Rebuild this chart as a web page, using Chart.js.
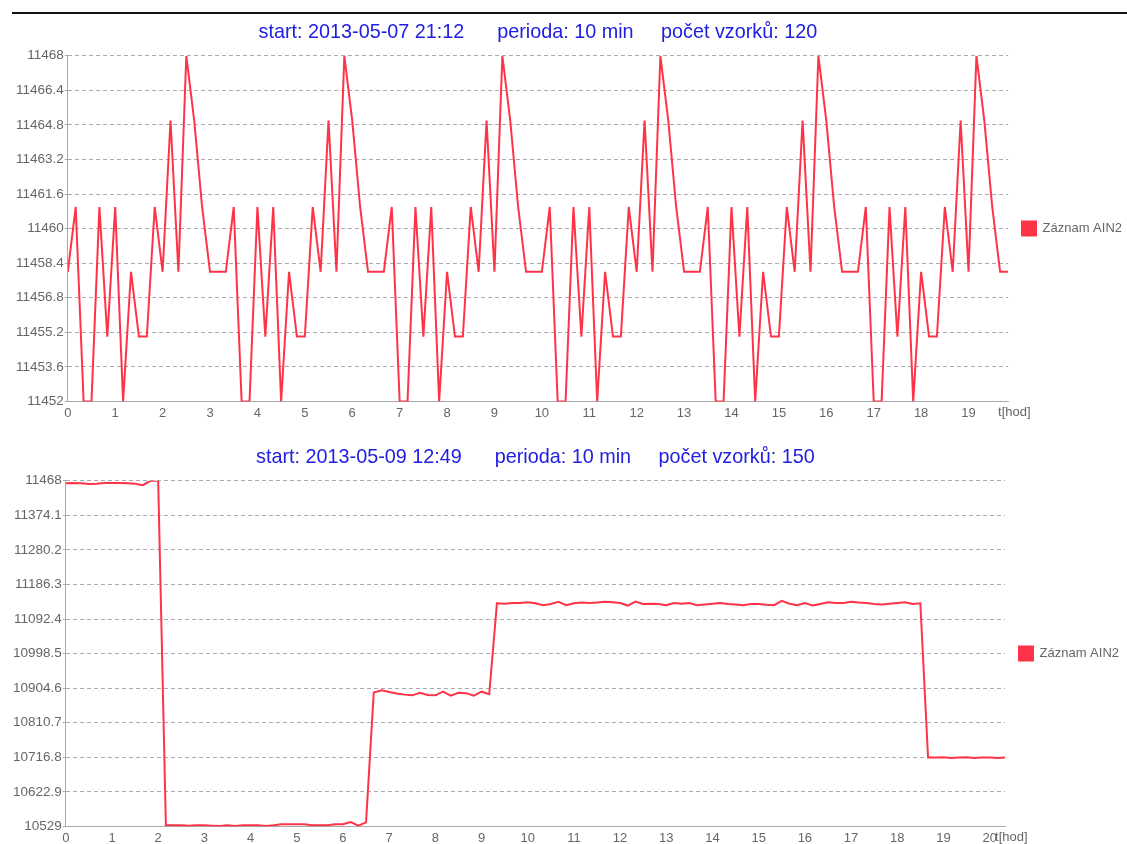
<!DOCTYPE html>
<html>
<head>
<meta charset="utf-8">
<title>Záznam AIN2</title>
<script src="https://cdn.jsdelivr.net/npm/chart.js@4.4.0/dist/chart.umd.min.js"></script>
<style>
  html, body { margin: 0; padding: 0; background: #fff; overflow: hidden; }
  body { width: 1127px; height: 844px; position: relative; }
  .rule { position: absolute; left: 12px; top: 12px; width: 1115px; height: 2px; background: #111; }
  .box { position: absolute; width: 1132px; height: 425px; }
  #box1 { left: 0; top: 0; }
  #box2 { left: -3px; top: 425px; }
</style>
</head>
<body>
<div class="rule"></div>
<div class="box" id="box1"><canvas id="chart1"></canvas></div>
<div class="box" id="box2"><canvas id="chart2"></canvas></div>
<script>
// data
const seriesName = 'Záznam AIN2';
const xUnit = 't[hod]';
const periodHours = 10 / 60;

const title1 = 'start: 2013-05-07 21:12      perioda: 10 min     počet vzorků: 120';
const title2 = 'start: 2013-05-09 12:49      perioda: 10 min     počet vzorků: 150';

const xTicks1 = [0, 1, 2, 3, 4, 5, 6, 7, 8, 9, 10, 11, 12, 13, 14, 15, 16, 17, 18, 19];
const xTicks2 = [0, 1, 2, 3, 4, 5, 6, 7, 8, 9, 10, 11, 12, 13, 14, 15, 16, 17, 18, 19, 20];

const yTicks1 = [11452, 11453.6, 11455.2, 11456.8, 11458.4, 11460, 11461.6, 11463.2, 11464.8, 11466.4, 11468];
const yTicks2 = [10529, 10622.9, 10716.8, 10810.7, 10904.6, 10998.5, 11092.4, 11186.3, 11280.2, 11374.1, 11468];

const values1 = [
    11458, 11461, 11452, 11452, 11461, 11455, 11461, 11452, 11458, 11455,
    11455, 11461, 11458, 11465, 11458, 11468, 11465, 11461, 11458, 11458,
    11458, 11461, 11452, 11452, 11461, 11455, 11461, 11452, 11458, 11455,
    11455, 11461, 11458, 11465, 11458, 11468, 11465, 11461, 11458, 11458,
    11458, 11461, 11452, 11452, 11461, 11455, 11461, 11452, 11458, 11455,
    11455, 11461, 11458, 11465, 11458, 11468, 11465, 11461, 11458, 11458,
    11458, 11461, 11452, 11452, 11461, 11455, 11461, 11452, 11458, 11455,
    11455, 11461, 11458, 11465, 11458, 11468, 11465, 11461, 11458, 11458,
    11458, 11461, 11452, 11452, 11461, 11455, 11461, 11452, 11458, 11455,
    11455, 11461, 11458, 11465, 11458, 11468, 11465, 11461, 11458, 11458,
    11458, 11461, 11452, 11452, 11461, 11455, 11461, 11452, 11458, 11455,
    11455, 11461, 11458, 11465, 11458, 11468, 11465, 11461, 11458, 11458
];

const values2 = [
    11461, 11462, 11461, 11459, 11460, 11462, 11462, 11462, 11461, 11460,
    11456, 11468, 11468,
    10532, 10532, 10532, 10531, 10532, 10532, 10531, 10530, 10532, 10530,
    10532, 10532, 10532, 10530, 10532, 10535, 10535, 10535, 10535, 10532,
    10532, 10532, 10535, 10535, 10541, 10531, 10540,
    10893, 10899, 10894, 10890, 10887, 10885, 10892, 10886, 10885, 10895,
    10884, 10892, 10891, 10884, 10895, 10888,
    11135, 11134, 11136, 11136, 11138, 11135, 11130, 11133, 11139, 11130,
    11135, 11137, 11136, 11137, 11139, 11138, 11136, 11129, 11140, 11133,
    11134, 11133, 11130, 11136, 11134, 11136, 11130, 11132, 11134, 11136,
    11133, 11132, 11130, 11133, 11133, 11131, 11130, 11142, 11134, 11130,
    11136, 11129, 11133, 11138, 11136, 11136, 11139, 11137, 11136, 11133,
    11132, 11134, 11136, 11138, 11133, 11135,
    10716, 10716, 10717, 10715, 10716, 10717, 10715, 10716, 10716, 10715,
    10716
];

// styles
const fontFamily = '"Liberation Sans", Arial, Helvetica, sans-serif';
const lineColor = '#ff3347';
const tickColor = '#666';
const gridColor = '#aaa';
const titleColor = '#2020e0';

Chart.defaults.font.family = fontFamily;

// draws the "t[hod]" unit at the end of the time axis
const unitLabel = {
    id: 'unitLabel',
    afterDraw(chart) {
        const ctx = chart.ctx;
        const area = chart.chartArea;
        ctx.save();
        ctx.font = '13px ' + fontFamily;
        ctx.fillStyle = tickColor;
        ctx.textAlign = 'left';
        ctx.textBaseline = 'middle';
        ctx.fillText(xUnit, area.right - 10, area.bottom + 11.5);
        ctx.restore();
    }
};

function makeChart(id, title, values, xTicks, yTicks) {
    const points = values.map((v, i) => ({ x: i * periodHours, y: v }));
    return new Chart(document.getElementById(id), {
        type: 'line',
        data: {
            datasets: [{
                label: seriesName,
                data: points,
                borderColor: lineColor,
                backgroundColor: lineColor,
                borderWidth: 2,
                pointRadius: 0,
                tension: 0,
                fill: false
            }]
        },
        options: {
            responsive: true,
            maintainAspectRatio: false,
            animation: false,
            layout: { padding: { left: 15, right: 0, top: 0, bottom: 0 } },
            plugins: {
                title: {
                    display: true,
                    text: title,
                    color: titleColor,
                    fullSize: false,
                    font: { size: 19.8, weight: 'normal' },
                    padding: { top: 21, bottom: 11 }
                },
                legend: {
                    position: 'right',
                    fullSize: false,
                    labels: { boxWidth: 14, boxHeight: 14, padding: 14, color: tickColor, font: { size: 13 } }
                },
                tooltip: { enabled: false }
            },
            scales: {
                x: {
                    type: 'linear',
                    min: 0,
                    max: (values.length - 1) * periodHours,
                    afterBuildTicks: axis => { axis.ticks = xTicks.map(v => ({ value: v })); },
                    ticks: { color: tickColor, font: { size: 13 }, padding: 4, maxRotation: 0, autoSkip: false, callback: v => String(v) },
                    grid: { display: false, drawTicks: false },
                    border: { color: gridColor, width: 1 }
                },
                y: {
                    min: yTicks[0],
                    max: yTicks[yTicks.length - 1],
                    afterBuildTicks: axis => { axis.ticks = yTicks.map(v => ({ value: v })); },
                    ticks: { color: tickColor, font: { size: 13.5 }, padding: 1, autoSkip: false, callback: v => String(v) },
                    grid: { color: gridColor, lineWidth: 1, tickLength: 3 },
                    border: { color: gridColor, width: 1, dash: [4, 3] }
                }
            }
        },
        plugins: [unitLabel]
    });
}

makeChart('chart1', title1, values1, xTicks1, yTicks1);
makeChart('chart2', title2, values2, xTicks2, yTicks2);
</script>
</body>
</html>
